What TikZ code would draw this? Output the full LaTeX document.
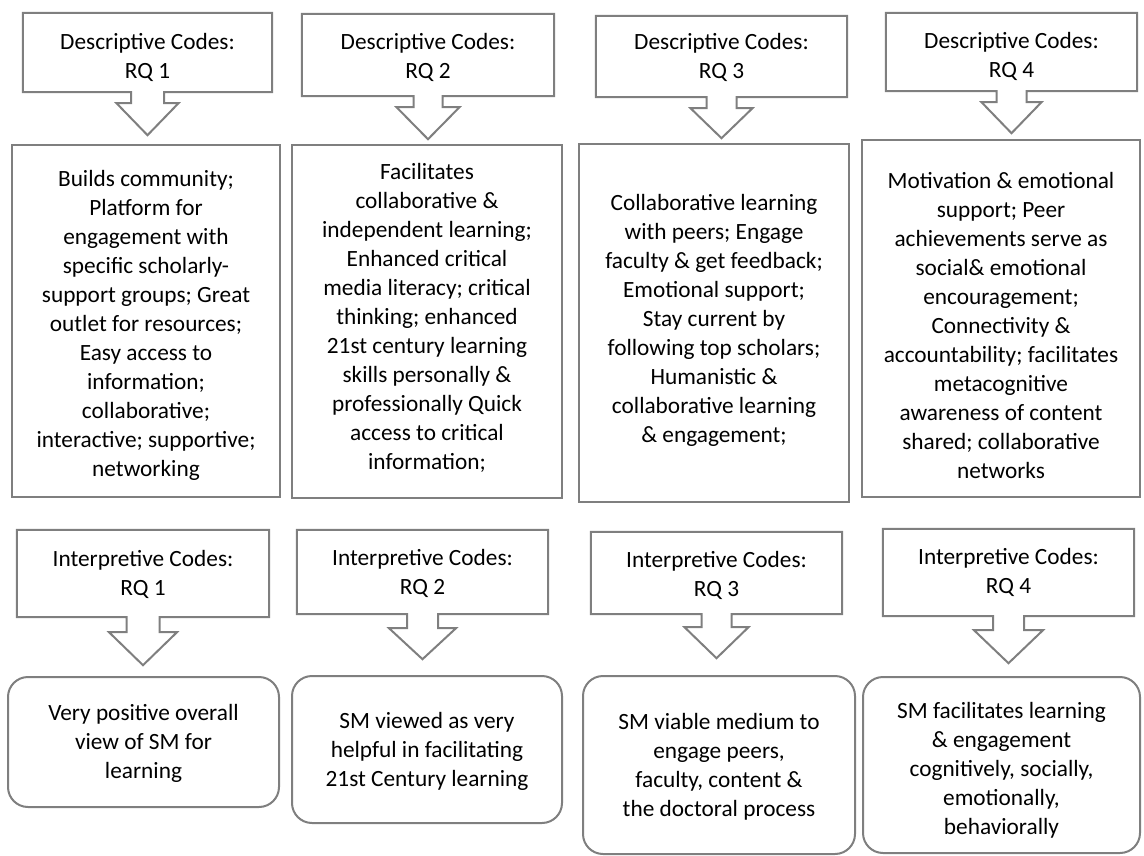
\documentclass[tikz,border=0pt]{standalone}
\usepackage{fontspec}
\setmainfont{Carlito}
\usetikzlibrary{calc}
\definecolor{linegray}{RGB}{127,127,127}
\tikzset{
  outline/.style={draw=linegray, line width=2pt, line join=miter},
  frame/.style={rectangle, draw=linegray, line width=2pt, inner sep=0pt},
  roundframe/.style={frame, rounded corners=20pt},
  calloutbox/.style={rectangle, inner sep=0pt},
  body/.style={align=center, inner sep=0pt, font=\fontsize{23.3}{29}\selectfont},
}
% #1 node name, #2 shaft half width, #3 head half width, #4 shaft length, #5 head length
\newcommand{\drawcallout}[5]{%
  \draw[outline] (#1.north west) -- (#1.north east) -- (#1.south east)
    -- ([xshift=#2pt]#1.south) -- ++(0,#4) -- ++({#3-#2},0) -- ++(-#3,#5)
    -- ++(-#3,-#5) -- ++({#3-#2},0) -- ++(0,-#4) -- (#1.south west) -- cycle;}
\begin{document}
\begin{tikzpicture}[x=1pt,y=-1pt]
\useasboundingbox (0,0) rectangle (1144,856);

% ---- descriptive callouts
\node[calloutbox, minimum width=249pt, minimum height=79pt] (d1) at (147.5,52.5) {};
\node[calloutbox, minimum width=252pt, minimum height=82pt] (d2) at (428,55) {};
\node[calloutbox, minimum width=251pt, minimum height=81pt] (d3) at (721.5,56.5) {};
\node[calloutbox, minimum width=251pt, minimum height=78pt] (d4) at (1011.5,52) {};
\drawcallout{d1}{16.5}{31}{11}{32}
\drawcallout{d2}{14.5}{31.5}{11}{32}
\drawcallout{d3}{15}{31}{11}{30}
\drawcallout{d4}{15}{30}{11}{31}
\node[body] (d1t) at (147.5,57) {Descriptive Codes:\\RQ 1};
\node[body] (d2t) at (428,57) {Descriptive Codes:\\RQ 2};
\node[body] (d3t) at (721.5,57.5) {Descriptive Codes:\\RQ 3};
\node[body] (d4t) at (1011.5,56.5) {Descriptive Codes:\\RQ 4};

% ---- descriptive code boxes
\node[frame, minimum width=268pt, minimum height=352pt] (b1) at (146,321) {};
\node[frame, minimum width=270pt, minimum height=353pt] (b2) at (427,321.5) {};
\node[frame, minimum width=270pt, minimum height=358pt] (b3) at (714,323) {};
\node[frame, minimum width=278pt, minimum height=357pt] (b4) at (1001,318.5) {};

\node[body] (b1t) at (146,325) {Builds community;\\Platform for\\engagement with\\specific scholarly-\\support groups; Great\\outlet for resources;\\Easy access to\\information;\\collaborative;\\interactive; supportive;\\networking};
\node[body] (b2t) at (427,318) {Facilitates\\collaborative \&\\independent learning;\\Enhanced critical\\media literacy; critical\\thinking; enhanced\\21st century learning\\skills personally \&\\professionally Quick\\access to critical\\information;};
\node[body] (b3t) at (714,320) {Collaborative learning\\with peers; Engage\\faculty \& get feedback;\\Emotional support;\\Stay current by\\following top scholars;\\Humanistic \&\\collaborative learning\\\& engagement;};
\node[body] (b4t) at (1001,325) {Motivation \& emotional\\support; Peer\\achievements serve as\\social\& emotional\\encouragement;\\Connectivity \&\\accountability; facilitates\\metacognitive\\awareness of content\\shared; collaborative\\networks};

% ---- interpretive callouts
\node[calloutbox, minimum width=252pt, minimum height=87pt] (i1) at (143,573.5) {};
\node[calloutbox, minimum width=251pt, minimum height=84pt] (i2) at (422.5,572) {};
\node[calloutbox, minimum width=251pt, minimum height=82pt] (i3) at (716.5,573) {};
\node[calloutbox, minimum width=251pt, minimum height=87pt] (i4) at (1008.5,572.5) {};
\drawcallout{i1}{16.5}{34}{15}{33}
\drawcallout{i2}{15.5}{33.5}{14}{31}
\drawcallout{i3}{15}{32}{13}{31}
\drawcallout{i4}{15.5}{34.5}{14}{33}
\node[body] (i1t) at (143,574) {Interpretive Codes:\\RQ 1};
\node[body] (i2t) at (422.5,573) {Interpretive Codes:\\RQ 2};
\node[body] (i3t) at (716.5,575) {Interpretive Codes:\\RQ 3};
\node[body] (i4t) at (1008.5,572.5) {Interpretive Codes:\\RQ 4};

% ---- interpretive code boxes
\node[roundframe, minimum width=271pt, minimum height=130pt] (r1) at (143.5,742) {};
\node[roundframe, minimum width=270pt, minimum height=147pt] (r2) at (427,749.5) {};
\node[roundframe, minimum width=272pt, minimum height=178pt] (r3) at (719,765) {};
\node[roundframe, minimum width=277pt, minimum height=176pt] (r4) at (1001.5,765) {};

\node[body] (r1t) at (143.5,743) {Very positive overall\\view of SM for\\learning};
\node[body] (r2t) at (427,751) {SM viewed as very\\helpful in facilitating\\21st Century learning};
\node[body] (r3t) at (719,767) {SM viable medium to\\engage peers,\\faculty, content \&\\the doctoral process};
\node[body] (r4t) at (1001.5,770) {SM facilitates learning\\\& engagement\\cognitively, socially,\\emotionally,\\behaviorally};
\end{tikzpicture}
\end{document}
